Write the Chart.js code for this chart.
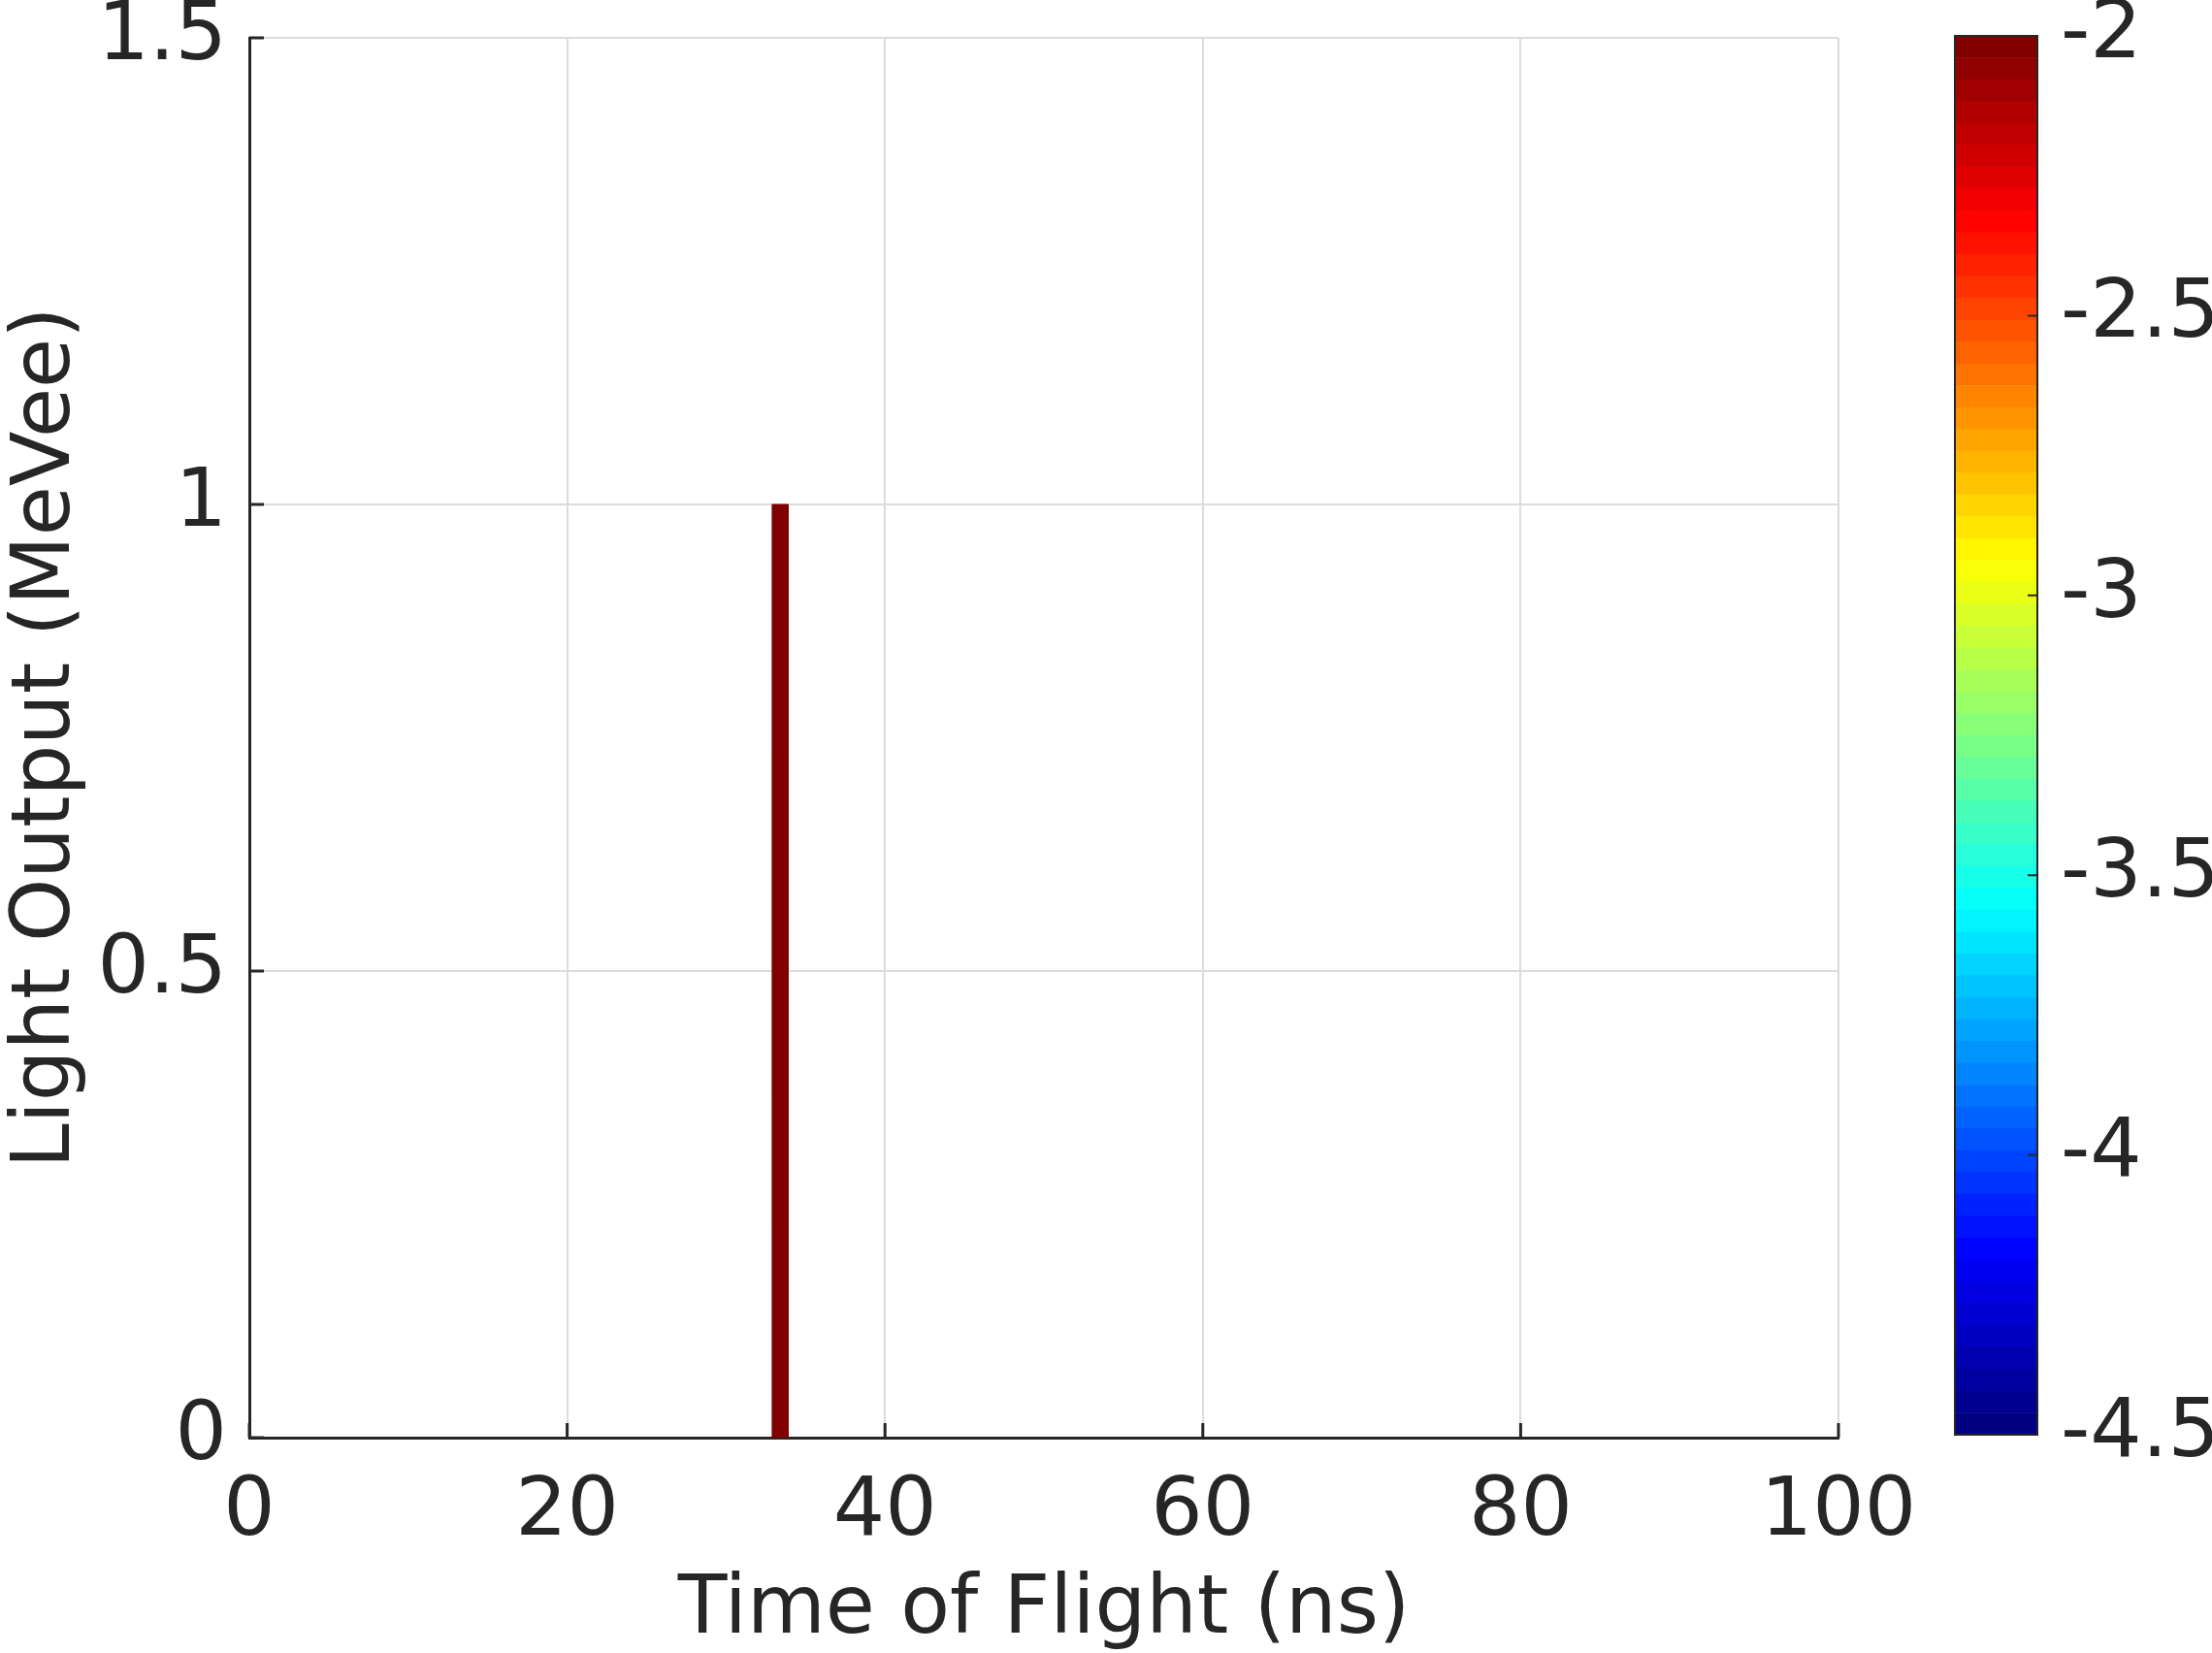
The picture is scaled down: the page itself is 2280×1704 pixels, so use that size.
<!DOCTYPE html>
<html>
<head>
<meta charset="utf-8">
<script src="https://cdn.jsdelivr.net/npm/chart.js@4.4.1/dist/chart.umd.min.js"></script>
<style>
html, body { margin: 0; padding: 0; background: #fff; }
#wrap { position: relative; width: 2280px; height: 1704px; overflow: hidden; background: #fff; }
#mainCanvas { position: absolute; left: 0; top: 0; }
#cbarCanvas { position: absolute; left: 2000px; top: 0; }
</style>
</head>
<body>
<div id="wrap">
    <canvas id="mainCanvas" width="2000" height="1704"></canvas>
    <canvas id="cbarCanvas" width="280" height="1704"></canvas>
</div>
<script>
// one filled histogram cell (log10 value)
const tofEdges = [32.9, 33.9];
const lightEdges = [0, 1];
const binValues = [-2];

const xTicks = [0, 20, 40, 60, 80, 100];
const yTicks = [0, 0.5, 1, 1.5];
const cbarTicks = [-4.5, -4, -3.5, -3, -2.5, -2];
const cbarRange = [-4.5, -2];
const nColors = 64;

const textColor = '#262626';
const fontFamily = '"DejaVu Sans", sans-serif';
const plain = v => String(v);

// matlab-ish jet colormap
const jet = t => {
    const c = v => Math.round(255 * Math.min(1, Math.max(0, v)));
    return `rgb(${c(1.5 - Math.abs(4 * t - 3))},${c(1.5 - Math.abs(4 * t - 2))},${c(1.5 - Math.abs(4 * t - 1))})`;
};
const colorFor = v => {
    let idx = Math.floor((v - cbarRange[0]) / (cbarRange[1] - cbarRange[0]) * nColors);
    idx = Math.min(nColors - 1, Math.max(0, idx));
    return jet(idx / (nColors - 1));
};

const cellDatasets = binValues.map(v => ({
    data: [
        {x: tofEdges[0], y: lightEdges[0]},
        {x: tofEdges[0], y: lightEdges[1]},
        {x: tofEdges[1], y: lightEdges[1]},
        {x: tofEdges[1], y: lightEdges[0]},
    ],
    showLine: true,
    fill: 'origin',
    backgroundColor: colorFor(v),
    borderColor: colorFor(v),
    borderWidth: 1,
    pointRadius: 0,
    tension: 0,
}));

const inTicks = {
    id: 'inTicks',
    afterDatasetsDraw(chart) {
        const {ctx, chartArea: a, scales} = chart;
        ctx.save();
        ctx.strokeStyle = textColor;
        ctx.lineWidth = 3;
        ctx.beginPath();
        xTicks.forEach(v => {
            const px = scales.x.getPixelForValue(v);
            ctx.moveTo(px, a.bottom);
            ctx.lineTo(px, a.bottom - 15);
        });
        yTicks.forEach(v => {
            const py = scales.y.getPixelForValue(v);
            ctx.moveTo(a.left, py);
            ctx.lineTo(a.left + 15, py);
        });
        ctx.stroke();
        ctx.restore();
    }
};

// gaps between axis and labels are made with invisible tick marks,
// so chart.js does not grow the layout padding
new Chart(document.getElementById('mainCanvas'), {
    type: 'scatter',
    data: { datasets: cellDatasets },
    options: {
        responsive: false,
        animation: false,
        devicePixelRatio: 1,
        layout: { padding: { left: 0, top: 39, right: 105, bottom: 0 } },
        plugins: { legend: { display: false }, tooltip: { enabled: false } },
        scales: {
            x: {
                type: 'linear',
                min: 0, max: 100,
                afterBuildTicks: s => { s.ticks = xTicks.map(v => ({value: v})); },
                afterFit: s => { s.height = 222; },
                grid: { color: '#dcdcdc', lineWidth: 2, drawTicks: true, tickLength: 36, tickColor: 'rgba(0,0,0,0)' },
                border: { display: true, color: textColor, width: 3 },
                ticks: { color: textColor, padding: 0, maxRotation: 0, callback: plain,
                         font: { family: fontFamily, size: 84, lineHeight: 1 } },
                title: { display: true, text: 'Time of Flight (ns)', color: textColor,
                         padding: { top: 0, bottom: 1 },
                         font: { family: fontFamily, size: 83, lineHeight: 1 } },
            },
            y: {
                type: 'linear',
                min: 0, max: 1.5,
                afterBuildTicks: s => { s.ticks = yTicks.map(v => ({value: v})); },
                afterFit: s => { s.width = 257; },
                grid: { color: '#dcdcdc', lineWidth: 2, drawTicks: true, tickLength: 23, tickColor: 'rgba(0,0,0,0)' },
                border: { display: true, color: textColor, width: 3 },
                ticks: { color: textColor, padding: 0, callback: plain,
                         font: { family: fontFamily, size: 84, lineHeight: 0.9 } },
                title: { display: true, text: 'Light Output (MeVee)', color: textColor,
                         padding: { top: 8, bottom: 0 },
                         font: { family: fontFamily, size: 83, lineHeight: 1 } },
            },
        },
    },
    plugins: [inTicks],
});

// colorbar: stack of floating bars, one per colour level
const levelDatasets = [];
for (let i = 0; i < nColors; i++) {
    const lo = cbarRange[0] + (cbarRange[1] - cbarRange[0]) * i / nColors;
    const hi = cbarRange[0] + (cbarRange[1] - cbarRange[0]) * (i + 1) / nColors;
    levelDatasets.push({
        data: [[lo, hi]],
        backgroundColor: jet(i / (nColors - 1)),
        borderWidth: 0,
        barPercentage: 1,
        categoryPercentage: 1,
        grouped: false,
    });
}

const cbarFrame = {
    id: 'cbarFrame',
    afterDatasetsDraw(chart) {
        const {ctx, chartArea: a, scales} = chart;
        ctx.save();
        ctx.strokeStyle = textColor;
        ctx.lineWidth = 2;
        ctx.strokeRect(a.left, a.top, a.right - a.left, a.bottom - a.top);
        ctx.beginPath();
        cbarTicks.forEach(v => {
            const py = scales.y.getPixelForValue(v);
            ctx.moveTo(a.right, py);
            ctx.lineTo(a.right - 10, py);
        });
        ctx.stroke();
        ctx.restore();
    }
};

new Chart(document.getElementById('cbarCanvas'), {
    type: 'bar',
    data: { labels: [''], datasets: levelDatasets },
    options: {
        responsive: false,
        animation: false,
        devicePixelRatio: 1,
        layout: { padding: { left: 15, top: 37, right: 0, bottom: 225 } },
        plugins: { legend: { display: false }, tooltip: { enabled: false } },
        scales: {
            x: { display: false, stacked: true },
            y: {
                position: 'right',
                min: cbarRange[0], max: cbarRange[1],
                afterBuildTicks: s => { s.ticks = cbarTicks.map(v => ({value: v})); },
                afterFit: s => { s.width = 180; },
                grid: { display: true, drawOnChartArea: false, drawTicks: true, tickLength: 24, tickColor: 'rgba(0,0,0,0)' },
                border: { display: false },
                ticks: { color: textColor, padding: 0, callback: plain,
                         font: { family: fontFamily, size: 84, lineHeight: 0.85 } },
            },
        },
    },
    plugins: [cbarFrame],
});
</script>
</body>
</html>
